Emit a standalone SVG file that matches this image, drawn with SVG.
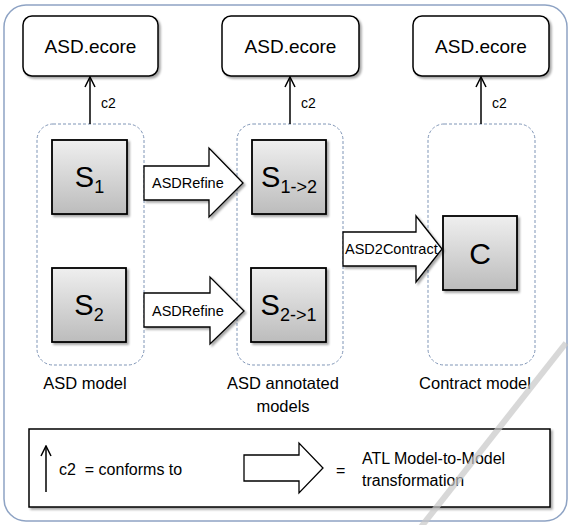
<svg xmlns="http://www.w3.org/2000/svg" width="571" height="525" viewBox="0 0 571 525">
<style>
text{font-family:"Liberation Sans",Arial,sans-serif;fill:#000}
.frame{fill:none;stroke:#8ea3c4;stroke-width:1.5}
.meta{fill:#fff;stroke:#000;stroke-width:1.5}
.cont{fill:none;stroke:#7f95b6;stroke-width:1;stroke-dasharray:3 2}
.model{fill:url(#g);stroke:#000;stroke-width:1.8}
.blk{fill:#fff;stroke:#000;stroke-width:1.3}
.conn{stroke:#000;stroke-width:1.5;fill:none}
.t18{font-size:19px}
.lbl{font-size:16.5px}
.tr{font-size:14.5px}
.c2{font-size:14px}
</style>
<defs>
<linearGradient id="g" x1="0" y1="0" x2="0" y2="1">
<stop offset="0" stop-color="#efefef"/>
<stop offset="1" stop-color="#bcbcbc"/>
</linearGradient>
<filter id="sh" x="-10%" y="-10%" width="130%" height="130%">
<feDropShadow dx="2" dy="2" stdDeviation="1.2" flood-color="#000" flood-opacity="0.35"/>
</filter>
<marker id="oa" viewBox="0 0 12 12" refX="11" refY="6" markerWidth="12" markerHeight="12" markerUnits="userSpaceOnUse" orient="auto">
<polyline points="1,1 11,6 1,11" fill="none" stroke="#000" stroke-width="1.5"/>
</marker>
</defs>
<rect width="571" height="525" fill="#fff"/>
<rect class="frame" x="4" y="5" width="563" height="516" rx="22"/>

<g id="meta1"><rect class="meta" x="23" y="16" width="135" height="60" rx="9" filter="url(#sh)"/><text class="t18" x="90.5" y="53" text-anchor="middle">ASD.ecore</text></g>
<g id="meta2"><rect class="meta" x="222" y="16" width="137" height="60" rx="9" filter="url(#sh)"/><text class="t18" x="290.5" y="53" text-anchor="middle">ASD.ecore</text></g>
<g id="meta3"><rect class="meta" x="413" y="16" width="136" height="60" rx="9" filter="url(#sh)"/><text class="t18" x="481" y="53" text-anchor="middle">ASD.ecore</text></g>

<g id="asd-model"><rect class="cont" x="37" y="124" width="107" height="241" rx="16"/><text class="lbl" x="85" y="389" text-anchor="middle">ASD model</text></g>
<g id="asd-annotated"><rect class="cont" x="237" y="124" width="106" height="241" rx="16"/><text class="lbl" x="283" y="389" text-anchor="middle">ASD annotated</text><text class="lbl" x="283" y="412" text-anchor="middle">models</text></g>
<g id="contract-model"><rect class="cont" x="428" y="124" width="107" height="241" rx="16"/><text class="lbl" x="475" y="389" text-anchor="middle">Contract model</text></g>

<g id="S1"><rect class="model" x="52" y="140" width="75" height="74" filter="url(#sh)"/><text x="89.5" y="187" text-anchor="middle" font-size="29"><tspan>S</tspan><tspan dy="6" font-size="18">1</tspan></text></g>
<g id="S2"><rect class="model" x="52" y="268" width="74" height="74" filter="url(#sh)"/><text x="89" y="315" text-anchor="middle" font-size="29"><tspan>S</tspan><tspan dy="6" font-size="18">2</tspan></text></g>
<g id="S12"><rect class="model" x="252" y="140" width="74" height="74" filter="url(#sh)"/><text x="289" y="187" text-anchor="middle" font-size="29"><tspan>S</tspan><tspan dy="6" font-size="18">1-&gt;2</tspan></text></g>
<g id="S21"><rect class="model" x="251" y="268" width="75" height="74" filter="url(#sh)"/><text x="288.5" y="315" text-anchor="middle" font-size="29"><tspan>S</tspan><tspan dy="6" font-size="18">2-&gt;1</tspan></text></g>
<g id="C"><rect class="model" x="443" y="216" width="74" height="74" filter="url(#sh)"/><text x="480" y="264" text-anchor="middle" font-size="30">C</text></g>

<g id="connectors">
<line class="conn" x1="90" y1="124" x2="90" y2="77" marker-end="url(#oa)"/>
<text class="c2" x="101" y="108">c2</text>
<line class="conn" x1="290" y1="124" x2="290" y2="77" marker-end="url(#oa)"/>
<text class="c2" x="301" y="108">c2</text>
<line class="conn" x1="481" y1="124" x2="481" y2="77" marker-end="url(#oa)"/>
<text class="c2" x="492" y="108">c2</text>

<polygon class="blk" points="144,166 209,166 209,148 243,183 209,217 209,200 144,200" filter="url(#sh)"/>
<text class="tr" x="152" y="188">ASDRefine</text>
<polygon class="blk" points="144,293 210,293 210,277 244,311 210,344 210,327 144,327" filter="url(#sh)"/>
<text class="tr" x="152" y="316">ASDRefine</text>
<polygon class="blk" points="343,232 416,232 416,216 442,249 416,282 416,266 343,266" filter="url(#sh)"/>
<text class="tr" x="345" y="254">ASD2Contract</text>
</g>

<g id="legend">
<rect x="29" y="429" width="521" height="78" fill="#fff" stroke="#000" stroke-width="1.5" filter="url(#sh)"/>
<line class="conn" x1="46" y1="492" x2="46" y2="446" marker-end="url(#oa)"/>
<text x="59" y="475" font-size="16" style="white-space:pre">c2  = conforms to</text>
<polygon class="blk" points="244,455 299,455 299,443 323,468 299,493 299,481 244,481"/>
<text x="336" y="476" font-size="16">=</text>
<text x="362" y="464" font-size="16">ATL Model-to-Model</text>
<text x="362" y="486" font-size="16">transformation</text>
</g>

<line x1="566" y1="343" x2="421" y2="527" stroke="#c8c8c8" stroke-width="6" stroke-opacity="0.7"/>
</svg>
